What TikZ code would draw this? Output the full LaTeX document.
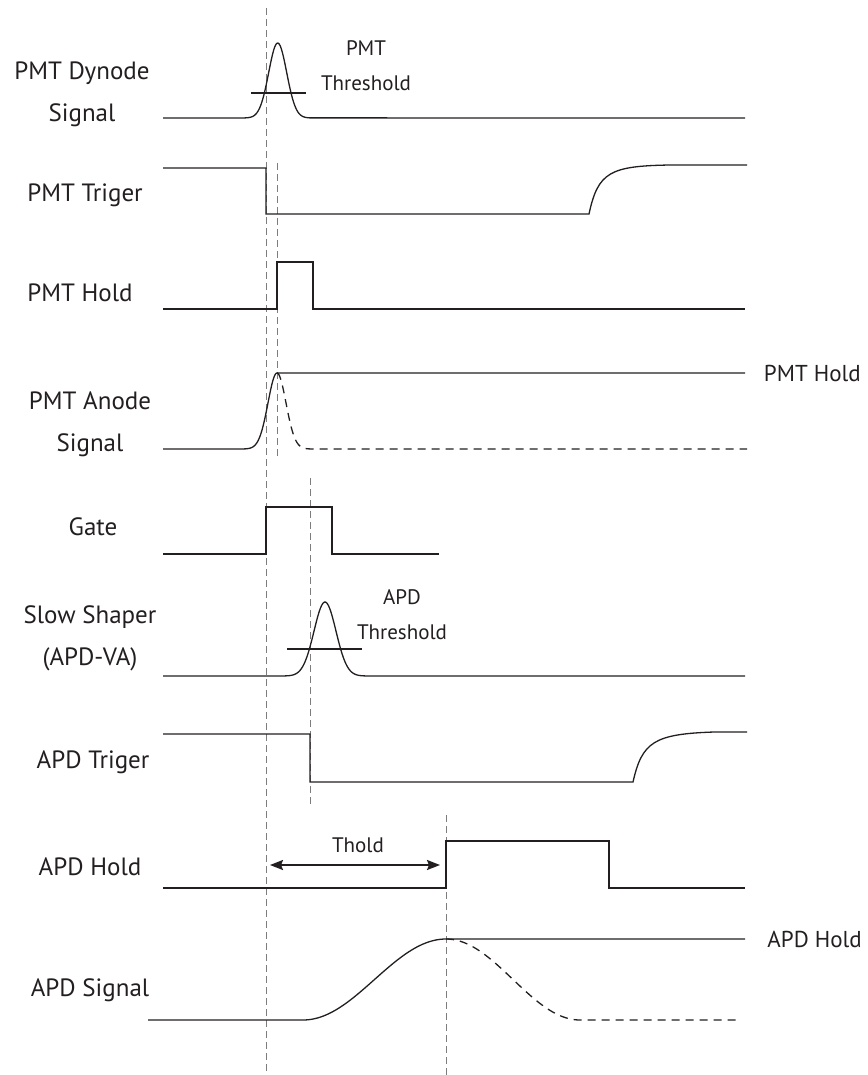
\documentclass[tikz,border=0pt]{standalone}
\usepackage{fontspec}
\setmainfont{PT Sans}
\usetikzlibrary{arrows.meta}
\definecolor{ink}{RGB}{35,31,32}
\definecolor{guide}{RGB}{125,125,125}

\newcommand{\tvar}{
\def\ta{266}   % PMT trigger edge
\def\tb{277}   % PMT hold edge
\def\tc{310}   % APD trigger edge
\def\td{446}   % APD hold edge
}
\tikzset{
  sig/.style={draw=ink, line width=1.3pt},
  sigdash/.style={sig, dash pattern=on 8pt off 6pt},
  guideline/.style={draw=guide, line width=1pt, dash pattern=on 7pt off 4pt},
  lbl/.style={text=ink, font=\fontsize{25}{42}\selectfont, align=center, inner sep=0pt},
  rlbl/.style={lbl, font=\fontsize{23}{42}\selectfont, anchor=east},
  thr/.style={text=ink, font=\fontsize{21}{35}\selectfont, align=center, inner sep=0pt},
  thold/.style={draw=ink, line width=2pt, {Stealth[length=13pt,width=10pt,inset=2pt]}-{Stealth[length=13pt,width=10pt,inset=2pt]}},
}

\begin{document}
\begin{tikzpicture}[x=1pt,y=-1pt]
      \tvar
      \useasboundingbox (0,0) rectangle (867,1075);
%
      \draw[guideline] (\ta,8) -- (\ta,1075);
      \draw[guideline] (\tb,163) -- (\tb,458);
      \draw[guideline] (\tc,478) -- (\tc,806);
      \draw[guideline] (\td,815) -- (\td,1075);
%
      \node[lbl] (dynode) at (82,94) {PMT Dynode\\Signal};
      \draw[sig] (163,118) -- (245,118)
         -- plot[domain=245:310,samples=60] (\x,{118-75*exp(-(\x-277.7)*(\x-277.7)/162)})
         -- (745,118);
      \draw[sig] (251,93) -- (306,93);
      \node[thr] (pmtthr) at (366,66) {PMT\\Threshold};
%
      \node[lbl] (pmttrig) at (85,195) {PMT Triger};
      \draw[sig] (163,168) -- (\ta,168) -- (\ta,214) -- (589,214)
         .. controls (598,172) and (610,166) .. (670,165) -- (747,165);
%
      \node[lbl] (pmthold) at (80,293) {PMT Hold};
      \draw[sig] (163,309) -- (\tb,309) -- (\tb,262) -- (313,262) -- (313,309) -- (745,309);
%
      \node[lbl] (anode) at (90,424) {PMT Anode\\Signal};
      \draw[sig] (163,449) -- (245,449)
         -- plot[domain=245:\tb,samples=40] (\x,{449-76*exp(-(\x-\tb)*(\x-\tb)/162)})
         -- (745,373);
      \draw[sigdash] plot[domain=\tb:310,samples=40] (\x,{449-76*exp(-(\x-\tb)*(\x-\tb)/162)})
         -- (747,449);
      \node[rlbl] (pmtholdr) at (861,373) {PMT Hold};
%
      \node[lbl] (gate) at (93,527) {Gate};
      \draw[sig] (163,554) -- (\ta,554) -- (\ta,507) -- (332,507) -- (332,554) -- (439,554);
%
      \node[lbl] (shaper) at (90,638) {Slow Shaper\\(APD-VA)};
      \draw[sig] (163,676) -- (285,676)
         -- plot[domain=285:365,samples=60] (\x,{676-74*exp(-(\x-325)*(\x-325)/242)})
         -- (745,676);
      \draw[sig] (287,649) -- (362,649);
      \node[thr] (apdthr) at (402,615) {APD\\Threshold};
%
      \node[lbl] (apdtrig) at (93,762) {APD Triger};
      \draw[sig] (163,734) -- (\tc,734) -- (\tc,782) -- (633,782)
         .. controls (642,742) and (654,734) .. (714,732) -- (747,732);
%
      \node[lbl] (apdhold) at (90,867) {APD Hold};
      \draw[sig] (163,888) -- (\td,888) -- (\td,841) -- (609,841) -- (609,888) -- (745,888);
      \coordinate (tstart) at (270,865);
      \coordinate (tend) at (440,865);
      \draw[thold] (tstart) -- (tend);
      \node[thr] (tholdlbl) at (358,845) {Thold};
%
      \node[lbl] (apdsig) at (90,990) {APD Signal};
      \draw[sig] (148,1020) -- (303,1020)
         -- plot[domain=303:\td,samples=50] (\x,{1020-81*(1-cos((\x-303)/143*180))/2})
         -- (745,939);
      \draw[sigdash] plot[domain=\td:580,samples=50] (\x,{939+81*(1-cos((\x-\td)/134*180))/2})
         -- (740,1020);
      \node[rlbl] (apdholdr) at (862,939) {APD Hold};
    \end{tikzpicture}
\end{document}
